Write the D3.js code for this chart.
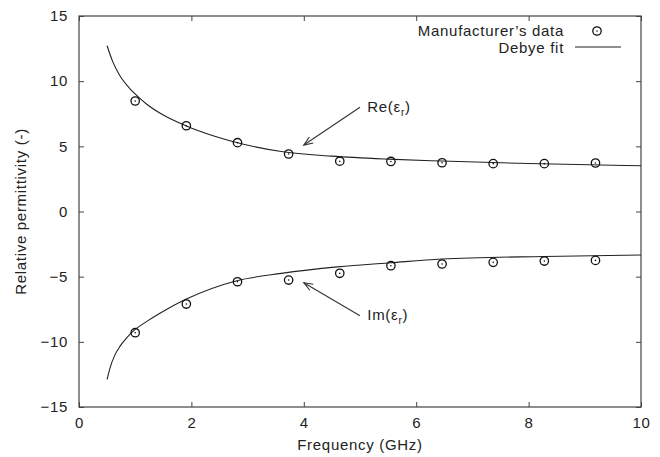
<!DOCTYPE html>
<html>
<head>
<meta charset="utf-8">
<script src="https://cdn.jsdelivr.net/npm/d3@7"></script>
<style>
  body { margin: 0; background: #fff; }
  text { font-family: "Liberation Sans", Arial, sans-serif; fill: #222; letter-spacing: 0.7px; }
</style>
</head>
<body>
<svg></svg>
<script>
const width = 660,
      height = 457

// measured data (GHz)
const freqs = [1.0, 1.91, 2.82, 3.73, 4.64, 5.55, 6.46, 7.37, 8.28, 9.19]
const reData = [8.48, 6.58, 5.28, 4.41, 3.86, 3.84, 3.74, 3.67, 3.67, 3.72]
const imData = [-9.30, -7.10, -5.39, -5.26, -4.74, -4.16, -4.03, -3.90, -3.80, -3.75]

// fit curve
const fitFreqs = [0.5, 0.6, 0.72, 0.9, 1.05, 1.2, 1.5, 1.9, 2.4, 2.7, 3.6, 4.5, 5.5, 6.45, 8.0, 10.0]
const reFit = [12.72, 11.5, 10.47, 9.45, 8.81, 8.25, 7.4, 6.58, 5.79, 5.41, 4.6, 4.25, 4.02, 3.87, 3.68, 3.51]
const imFitFreqs = [0.5, 0.55, 0.64, 0.725, 0.84, 1.0, 1.2, 1.44, 1.9, 2.81, 3.6, 4.6, 5.55, 6.45, 8.28, 10.0]
const imFit = [-12.88, -12.03, -11.0, -10.37, -9.73, -9.05, -8.45, -7.81, -6.74, -5.31, -4.75, -4.25, -3.93, -3.65, -3.45, -3.34]

const xTicks = [0, 2, 4, 6, 8, 10]
const yTicks = [-15, -10, -5, 0, 5, 10, 15]

const margin = {left: 79, right: 19, top: 16, bottom: 50}

const svg = d3.select("svg")
  .attr("width", width)
  .attr("height", height)

const x = d3.scaleLinear().domain([0, 10]).range([margin.left, width - margin.right])
const y = d3.scaleLinear().domain([-15, 15]).range([height - margin.bottom, margin.top])

const axisColor = "#444"
const tickLen = 5

// frame
svg.append("rect")
  .attr("x", x(0)).attr("y", y(15))
  .attr("width", x(10) - x(0)).attr("height", y(-15) - y(15))
  .attr("fill", "none").attr("stroke", axisColor).attr("stroke-width", 1.2)

// ticks, inward on all sides
const xAxisBottom = d3.axisBottom(x).tickValues(xTicks).tickSizeInner(-tickLen).tickSizeOuter(0).tickPadding(10)
const xAxisTop = d3.axisTop(x).tickValues(xTicks).tickSizeInner(-tickLen).tickSizeOuter(0).tickFormat("")
const yAxisLeft = d3.axisLeft(y).tickValues(yTicks).tickSizeInner(-tickLen).tickSizeOuter(0).tickPadding(11)
const yAxisRight = d3.axisRight(y).tickValues(yTicks).tickSizeInner(-tickLen).tickSizeOuter(0).tickFormat("")

function styleAxis(g) {
  g.select(".domain").remove()
  g.selectAll("line").attr("stroke", axisColor)
  g.selectAll("text").attr("font-size", 15).attr("fill", "#222")
    .attr("font-family", "Liberation Sans, Arial, sans-serif")
}

svg.append("g").attr("transform", `translate(0,${y(-15)})`).call(xAxisBottom).call(styleAxis)
svg.append("g").attr("transform", `translate(0,${y(15)})`).call(xAxisTop).call(styleAxis)
svg.append("g").attr("transform", `translate(${x(0)},0)`).call(yAxisLeft).call(styleAxis)
svg.append("g").attr("transform", `translate(${x(10)},0)`).call(yAxisRight).call(styleAxis)

// axis titles
svg.append("text")
  .attr("x", (x(0) + x(10)) / 2).attr("y", 450)
  .attr("text-anchor", "middle").attr("font-size", 15)
  .text("Frequency (GHz)")

svg.append("text")
  .attr("transform", `translate(26,${(y(15) + y(-15)) / 2}) rotate(-90)`)
  .attr("text-anchor", "middle").attr("font-size", 15)
  .text("Relative permittivity (-)")

// fit curves
const line = d3.line().curve(d3.curveMonotoneX)

svg.append("path")
  .attr("d", line(fitFreqs.map((f, i) => [x(f), y(reFit[i])])))
  .attr("fill", "none").attr("stroke", "#222").attr("stroke-width", 1.1)

svg.append("path")
  .attr("d", line(imFitFreqs.map((f, i) => [x(f), y(imFit[i])])))
  .attr("fill", "none").attr("stroke", "#222").attr("stroke-width", 1.1)

// data points: circle with a dot
function drawPoint(g, px, py) {
  g.append("circle").attr("cx", px).attr("cy", py).attr("r", 4.2)
    .attr("fill", "none").attr("stroke", "#111").attr("stroke-width", 1.3)
  g.append("circle").attr("cx", px).attr("cy", py).attr("r", 0.8).attr("fill", "#111")
}

const pts = svg.append("g")
freqs.forEach((f, i) => {
  drawPoint(pts, x(f), y(reData[i]))
  drawPoint(pts, x(f), y(imData[i]))
})

// annotations
svg.append("defs").append("marker")
  .attr("id", "head")
  .attr("viewBox", "-10 -5 12 10")
  .attr("refX", 0).attr("refY", 0)
  .attr("markerWidth", 12).attr("markerHeight", 10)
  .attr("markerUnits", "userSpaceOnUse")
  .attr("orient", "auto")
  .append("path")
    .attr("d", "M-9,-3.5 L0,0 L-9,3.5")
    .attr("fill", "none").attr("stroke", "#333").attr("stroke-width", 1.1)

const notes = [
  {label: "Re", from: [5.0, 8.0], to: [4.0, 5.1], text: [5.13, 7.66]},
  {label: "Im", from: [5.0, -8.0], to: [4.0, -5.46], text: [5.13, -8.33]}
]

notes.forEach(n => {
  svg.append("line")
    .attr("x1", x(n.from[0])).attr("y1", y(n.from[1]))
    .attr("x2", x(n.to[0])).attr("y2", y(n.to[1]))
    .attr("stroke", "#333").attr("stroke-width", 1.1)
    .attr("marker-end", "url(#head)")
  const t = svg.append("text")
    .attr("x", x(n.text[0])).attr("y", y(n.text[1]))
    .attr("font-size", 15)
  t.append("tspan").text(n.label + "(ε")
  t.append("tspan").attr("font-size", 10).attr("dy", 4).text("r")
  t.append("tspan").attr("dy", -4).text(")")
})

// legend
const legend = svg.append("g")
legend.append("text")
  .attr("x", 564).attr("y", 36)
  .attr("text-anchor", "end").attr("font-size", 15)
  .text("Manufacturer’s data")
drawPoint(legend, 597, 31)

legend.append("text")
  .attr("x", 564).attr("y", 52.5)
  .attr("text-anchor", "end").attr("font-size", 15)
  .text("Debye fit")
legend.append("line")
  .attr("x1", 575).attr("x2", 621).attr("y1", 47).attr("y2", 47)
  .attr("stroke", "#222").attr("stroke-width", 1.1)
</script>
</body>
</html>
